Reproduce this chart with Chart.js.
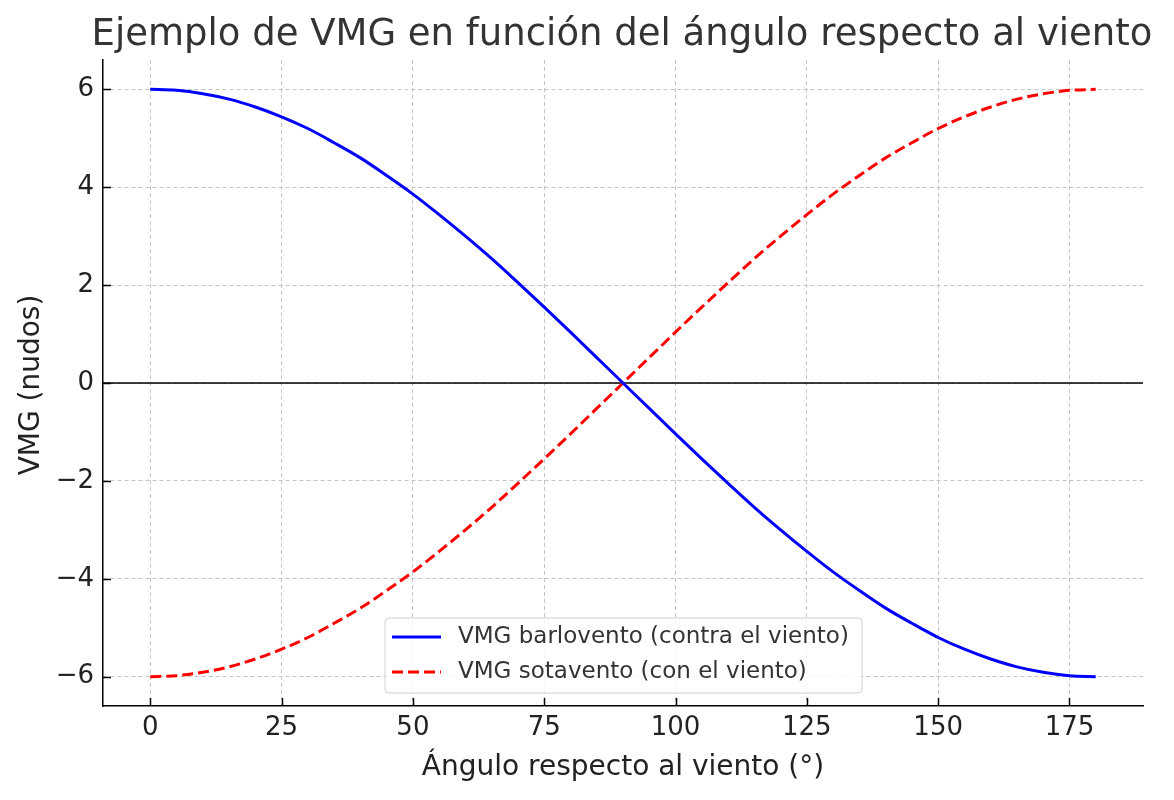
<!DOCTYPE html>
<html>
<head>
<meta charset="utf-8">
<script src="https://cdn.jsdelivr.net/npm/chart.js@4"></script>
<style>
html,body{margin:0;padding:0;background:#fff;}
#wrap{width:1174px;height:800px;position:relative;}
</style>
</head>
<body>
<div id="wrap"><canvas id="c" width="1174" height="800"></canvas></div>
<script>
const chartTitle = "Ejemplo de VMG en función del ángulo respecto al viento";
const xTitle = "Ángulo respecto al viento (°)";
const yTitle = "VMG (nudos)";
const angles = [0,5,10,15,20,25,30,35,40,45,50,55,60,65,70,75,80,85,90,95,100,105,110,115,120,125,130,135,140,145,150,155,160,165,170,175,180];
const vmgBarlovento = [6.00,5.98,5.91,5.80,5.64,5.44,5.20,4.91,4.60,4.24,3.86,3.44,3.00,2.54,2.05,1.55,1.04,0.52,0.00,-0.52,-1.04,-1.55,-2.05,-2.54,-3.00,-3.44,-3.86,-4.24,-4.60,-4.91,-5.20,-5.44,-5.64,-5.80,-5.91,-5.98,-6.00];
const vmgSotavento = [-6.00,-5.98,-5.91,-5.80,-5.64,-5.44,-5.20,-4.91,-4.60,-4.24,-3.86,-3.44,-3.00,-2.54,-2.05,-1.55,-1.04,-0.52,0.00,0.52,1.04,1.55,2.05,2.54,3.00,3.44,3.86,4.24,4.60,4.91,5.20,5.44,5.64,5.80,5.91,5.98,6.00];
const seriesLabels = ["VMG barlovento (contra el viento)","VMG sotavento (con el viento)"];
const xTicks = [0,25,50,75,100,125,150,175];
const yTicks = [-6,-4,-2,0,2,4,6];

const FONT = "'DejaVu Sans', sans-serif";

const overlay = {
  id:'overlay',
  beforeDatasetsDraw(chart){
    const {ctx, chartArea:a, scales:{x,y}} = chart;
    const py = y.getPixelForValue(0);
    ctx.save();
    ctx.strokeStyle='#000'; ctx.lineWidth=1.5;
    ctx.beginPath(); ctx.moveTo(a.left,py); ctx.lineTo(a.right,py); ctx.stroke();
    // inward tick marks
    ctx.lineWidth=1.5;
    x.ticks.forEach(t=>{ const px=Math.round(x.getPixelForValue(t.value))+0.5;
      ctx.beginPath(); ctx.moveTo(px,a.bottom); ctx.lineTo(px,a.bottom-8); ctx.stroke(); });
    y.ticks.forEach(t=>{ const pp=Math.round(y.getPixelForValue(t.value))+0.5;
      ctx.beginPath(); ctx.moveTo(a.left,pp); ctx.lineTo(a.left+8,pp); ctx.stroke(); });
    ctx.restore();
  },
  afterDraw(chart){
    const {ctx, chartArea:a} = chart;
    ctx.save();
    ctx.fillStyle='#333';
    ctx.font = "37px "+FONT;
    ctx.textAlign='center'; ctx.textBaseline='middle';
    ctx.fillText(chartTitle, 622, 35);
    ctx.fillStyle='#222';
    ctx.font = "28px "+FONT;
    ctx.fillText(xTitle, (a.left+a.right)/2, 768);
    ctx.save();
    ctx.translate(32,385);
    ctx.rotate(-Math.PI/2);
    ctx.fillText(yTitle,0,0);
    ctx.restore();
    // legend
    const lx=385, ly=618, lw=477, lh=75;
    ctx.fillStyle='rgba(255,255,255,0.85)';
    ctx.strokeStyle='#d0d0d0'; ctx.lineWidth=1;
    const r=4;
    ctx.beginPath();
    ctx.moveTo(lx+r,ly); ctx.lineTo(lx+lw-r,ly); ctx.quadraticCurveTo(lx+lw,ly,lx+lw,ly+r);
    ctx.lineTo(lx+lw,ly+lh-r); ctx.quadraticCurveTo(lx+lw,ly+lh,lx+lw-r,ly+lh);
    ctx.lineTo(lx+r,ly+lh); ctx.quadraticCurveTo(lx,ly+lh,lx,ly+lh-r);
    ctx.lineTo(lx,ly+r); ctx.quadraticCurveTo(lx,ly,lx+r,ly);
    ctx.closePath(); ctx.fill(); ctx.stroke();
    chart.data.datasets.forEach((ds,i)=>{
      const yy = ly+19+i*35;
      ctx.strokeStyle=ds.borderColor; ctx.lineWidth=3;
      ctx.setLineDash(ds.borderDash||[]);
      ctx.beginPath(); ctx.moveTo(lx+7,yy); ctx.lineTo(lx+56,yy); ctx.stroke();
      ctx.setLineDash([]);
      ctx.fillStyle='#333'; ctx.font="23px "+FONT;
      ctx.textAlign='left'; ctx.textBaseline='middle';
      ctx.fillText(ds.label, 458, yy);
    });
    ctx.restore();
  }
};

const fmt = v => (v<0 ? '\u2212'+Math.abs(v) : String(v));

new Chart(document.getElementById('c'),{
  type:'line',
  data:{
    labels: angles,
    datasets:[
      {label:seriesLabels[0], data:angles.map((a,i)=>({x:a,y:vmgBarlovento[i]})), borderColor:'#0000ff', borderWidth:3, pointRadius:0, cubicInterpolationMode:'monotone', fill:false},
      {label:seriesLabels[1], data:angles.map((a,i)=>({x:a,y:vmgSotavento[i]})), borderColor:'#ff0000', borderWidth:3, borderDash:[11,5], pointRadius:0, cubicInterpolationMode:'monotone', fill:false}
    ]
  },
  options:{
    responsive:false, animation:false, devicePixelRatio:1,
    layout:{padding:{top:60,right:31,left:0,bottom:0}},
    plugins:{legend:{display:false}, title:{display:false}, tooltip:{enabled:false}},
    scales:{
      x:{type:'linear', min:-9, max:189,
        afterBuildTicks(s){ s.ticks = xTicks.map(v=>({value:v})); },
        afterFit(s){ s.height = 94; },
        grid:{color:'#c4c4c4', lineWidth:1, drawTicks:false},
        border:{display:true, color:'#000', width:1.5, dash:[4,3]},
        ticks:{font:{family:FONT,size:26}, color:'#222', padding:7, maxRotation:0, autoSkip:false, callback:v=>fmt(v)}
      },
      y:{type:'linear', min:-6.6, max:6.6,
        afterBuildTicks(s){ s.ticks = yTicks.map(v=>({value:v})); },
        afterFit(s){ s.width = 103; },
        grid:{color:'#c4c4c4', lineWidth:1, drawTicks:false},
        border:{display:true, color:'#000', width:1.5, dash:[4,3]},
        ticks:{font:{family:FONT,size:26}, color:'#222', padding:9, autoSkip:false, callback:v=>fmt(v)}
      }
    }
  },
  plugins:[overlay]
});
</script>
</body>
</html>
